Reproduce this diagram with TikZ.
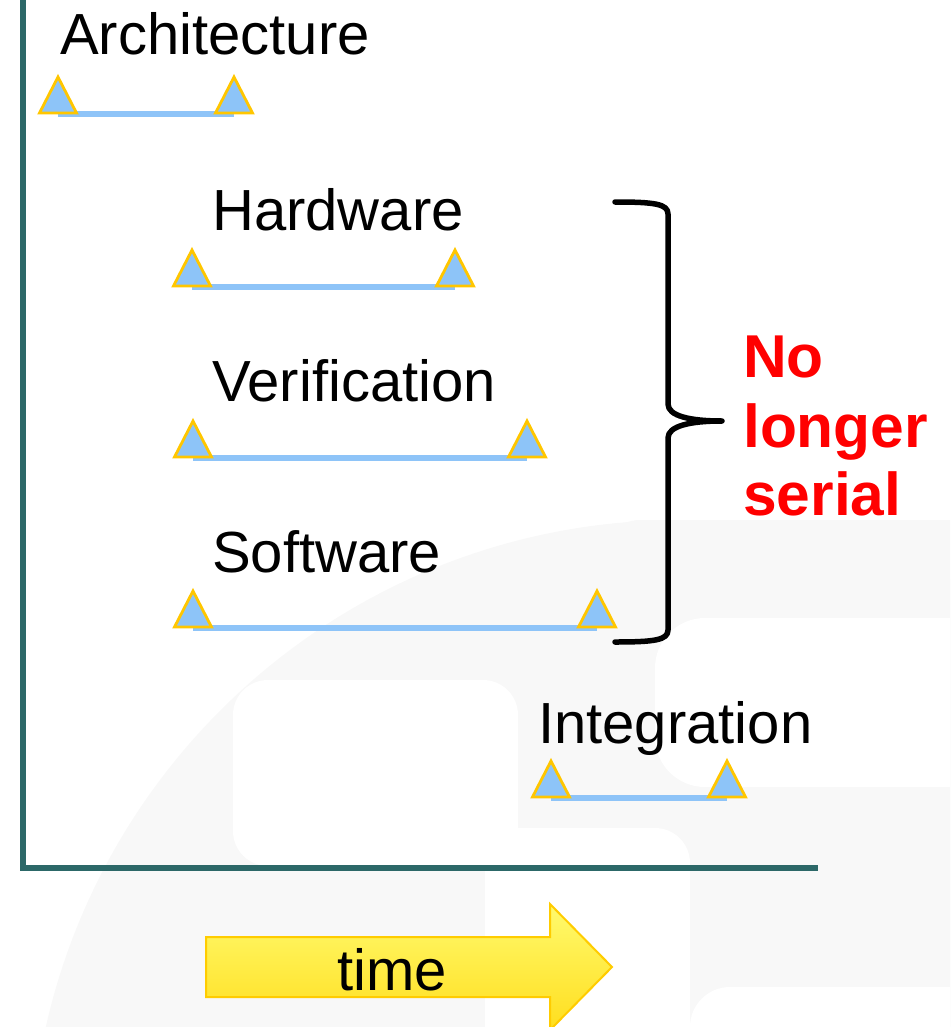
\documentclass[tikz,border=0pt]{standalone}
\usepackage{fontspec}
\setmainfont{Liberation Sans}
\definecolor{axisteal}{RGB}{44,104,104}
\definecolor{barblue}{RGB}{142,196,248}
\definecolor{trifill}{RGB}{141,196,248}
\definecolor{trigold}{RGB}{255,198,0}
\definecolor{arrowtop}{RGB}{255,250,110}
\definecolor{arrowbot}{RGB}{255,222,30}
\definecolor{arrowedge}{RGB}{255,204,0}
\definecolor{wmgray}{RGB}{248,248,248}
\definecolor{alarm}{RGB}{255,0,0}
\begin{document}
\begin{tikzpicture}[x=1pt,y=-1pt,
  phase/.style={anchor=base west, inner sep=0pt, font=\fontsize{58}{70}\selectfont},
  note/.style={anchor=base west, inner sep=0pt, text=alarm, font=\fontsize{60.5}{70}\selectfont\bfseries},
  bar/.style={draw=barblue, line width=6pt},
  milestone/.pic={\filldraw[fill=trifill, draw=trigold, line width=2.8pt, line join=miter]
      (-18.5,0) -- (0,-36) -- (18.5,0) -- cycle;},
  axisline/.style={draw=axisteal, line width=6pt},
  brace/.style={draw=black, line width=5.5pt, line cap=round, line join=round}]

\useasboundingbox (0,0) rectangle (950,1027);
\clip (0,0) rectangle (950,1027);

% faint background logo
\begin{scope}
  \clip (0,520) rectangle (950,1027);
  \fill[wmgray] (680,1170) circle (650);
  \fill[wmgray, rounded corners=40] (600,520) rectangle (1000,1100);
\end{scope}
\fill[white, rounded corners=35] (233,680) rectangle (518,866);
\fill[white, rounded corners=35] (485,828) rectangle (690,1070);
\fill[white, rounded corners=50] (655,618) rectangle (1000,787);
\fill[white, rounded corners=40] (690,987) rectangle (1000,1070);

% axes
\coordinate (origin) at (23,868);
\coordinate (ytop) at (23,-5);
\coordinate (xend) at (815,868);
\draw[axisline, line cap=rect] (ytop) -- (origin) -- (xend);

% phase labels
\node[phase] (arch)  at (60,55)   {Architecture};
\node[phase] (hw)    at (212,230) {Hardware};
\node[phase] (ver)   at (212,401) {Verification};
\node[phase] (sw)    at (212,572) {Software};
\node[phase] (integ) at (538,743) {Integration};

% phase bars with start/end milestones
\coordinate (arch-s)  at (58,113);  \coordinate (arch-e)  at (234,113);
\coordinate (hw-s)    at (192,286); \coordinate (hw-e)    at (455,286);
\coordinate (ver-s)   at (193,457); \coordinate (ver-e)   at (527,457);
\coordinate (sw-s)    at (193,627); \coordinate (sw-e)    at (597,627);
\coordinate (integ-s) at (551,797); \coordinate (integ-e) at (727,797);

\foreach \p in {arch,hw,ver,sw,integ}{
  \draw[bar] ([yshift=-1pt]\p-s) -- ([yshift=-1pt]\p-e);
  \pic at (\p-s) {milestone};
  \pic at (\p-e) {milestone};
}

% brace over the overlapping phases
\draw[brace] (615,202) .. controls (655,202) and (668,204) .. (668,214)
  -- (668,404) .. controls (668,416) and (690,421) .. (722,421)
  .. controls (690,421) and (668,426) .. (668,438)
  -- (668,630) .. controls (668,640) and (655,642) .. (615,642);

\node[note] (no1) at (743,377) {No};
\node[note] (no2) at (743,447) {longer};
\node[note] (no3) at (743,515) {serial};

% time arrow
\shade[top color=arrowtop, bottom color=arrowbot]
  (206,937) -- (550,937) -- (550,904) -- (612,967) -- (550,1030) -- (550,997) -- (206,997) -- cycle;
\draw[arrowedge, line width=2pt, line join=miter]
  (206,937) -- (550,937) -- (550,904) -- (612,967) -- (550,1030) -- (550,997) -- (206,997) -- cycle;
\node[phase] (timelbl) at (337,990) {time};
\end{tikzpicture}
\end{document}
